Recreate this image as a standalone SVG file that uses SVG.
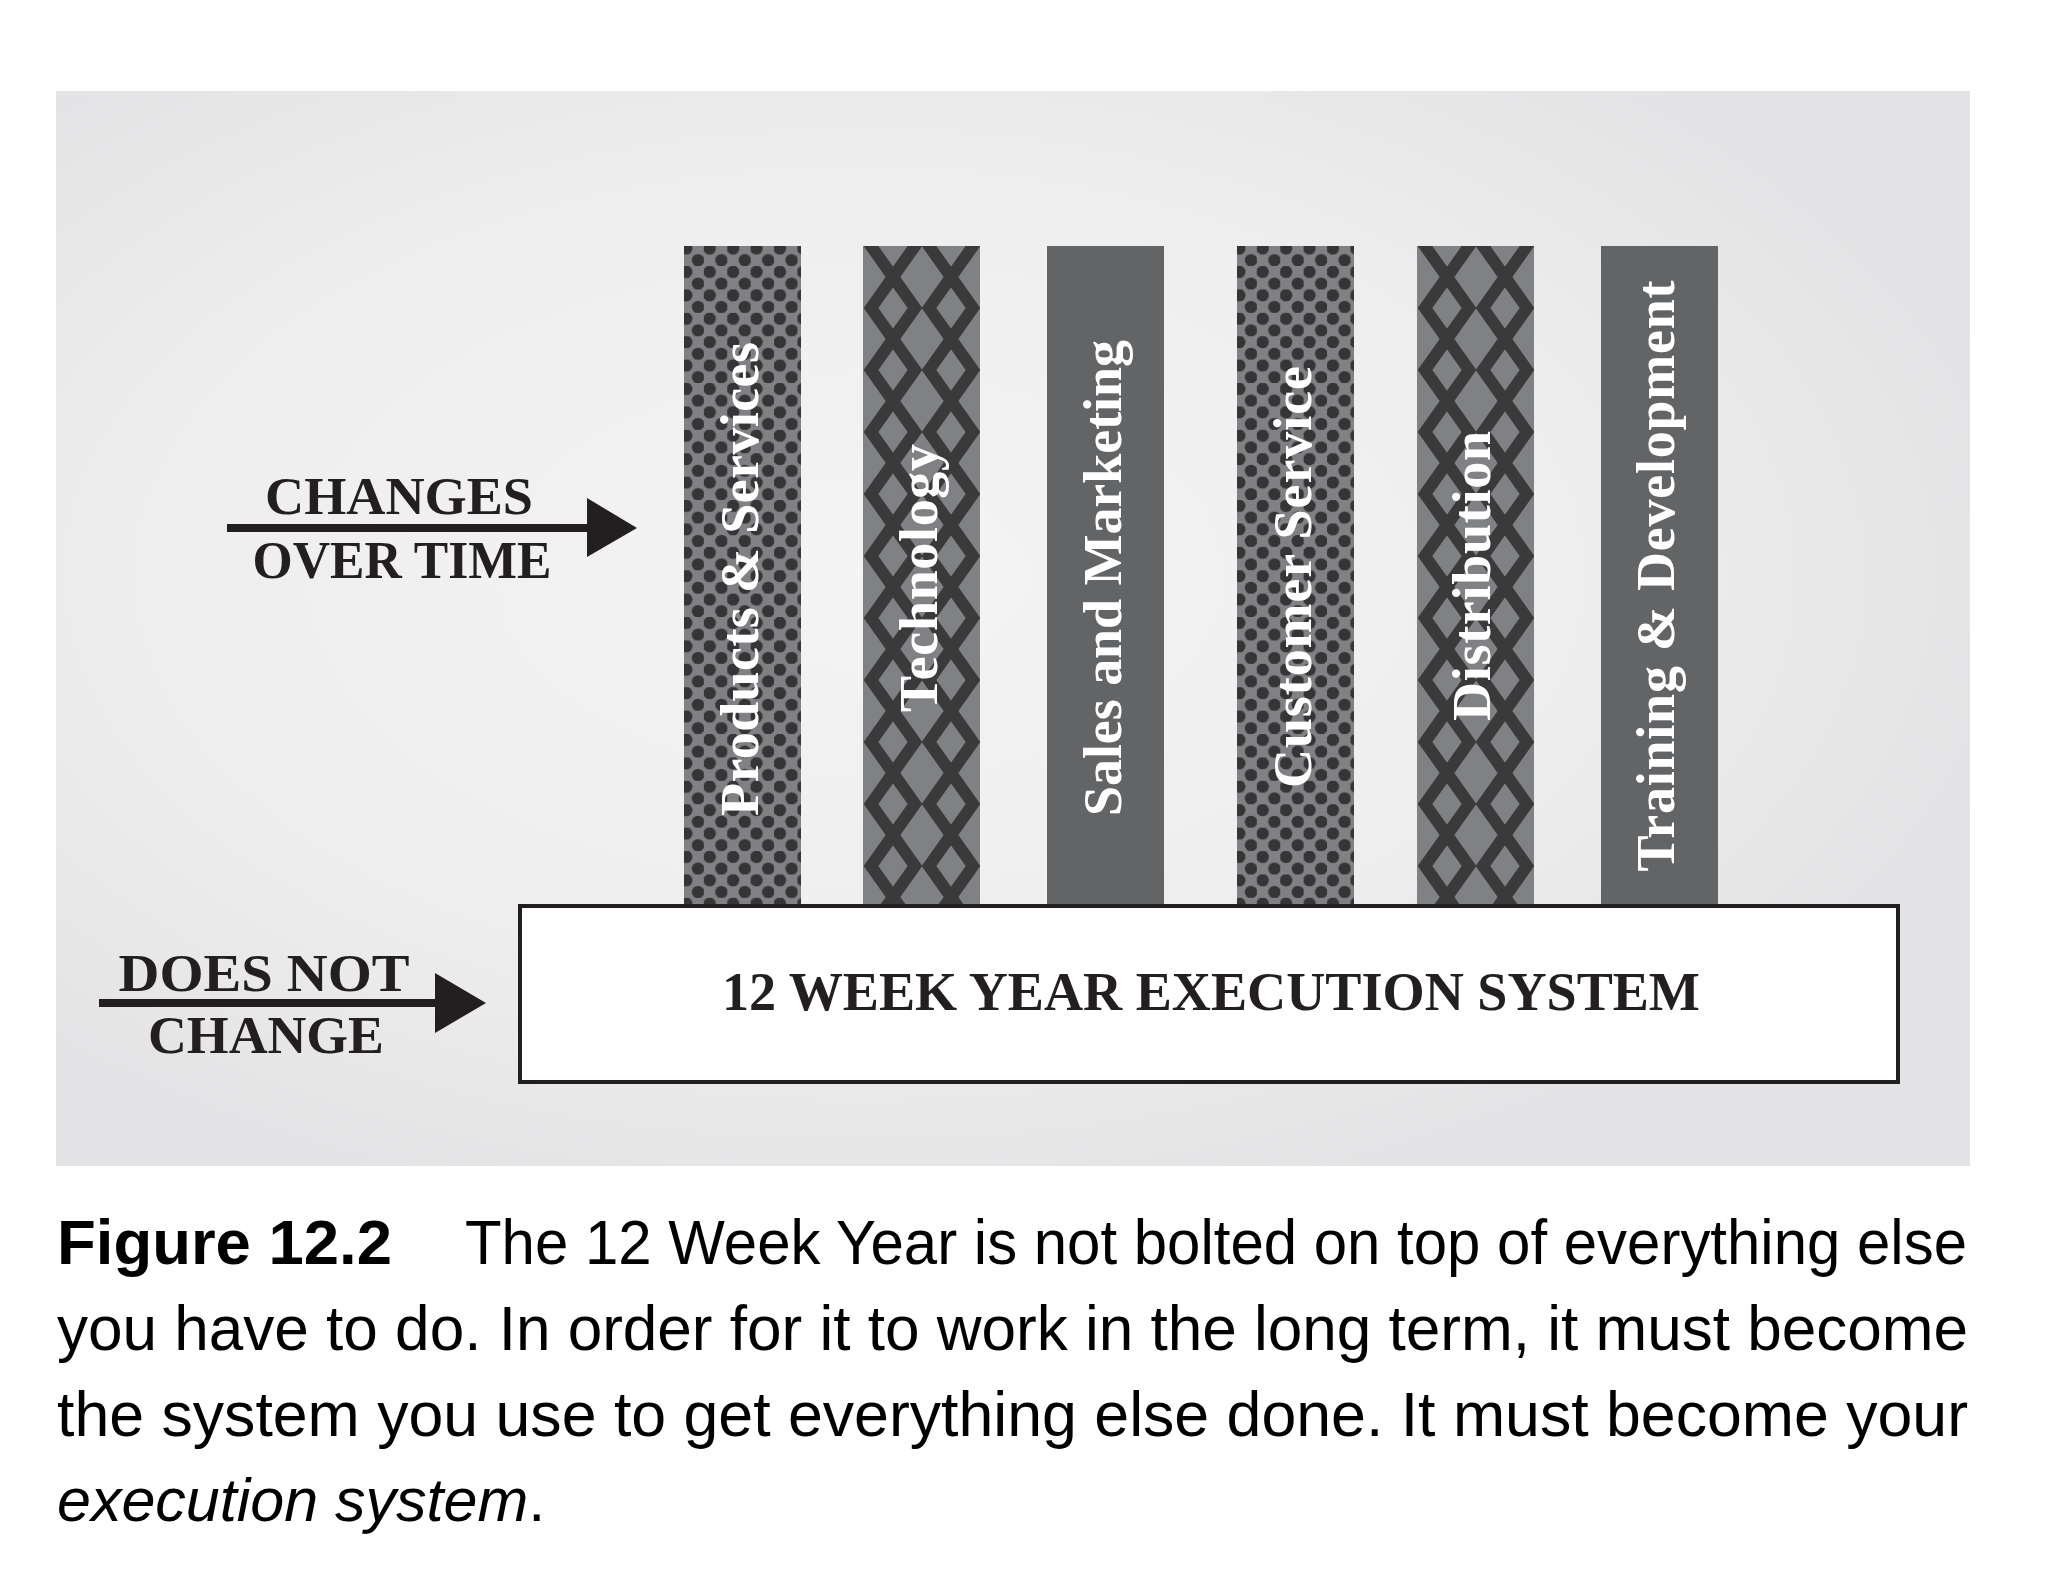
<svg xmlns="http://www.w3.org/2000/svg" width="2048" height="1596" viewBox="0 0 2048 1596">
  <style>
    .lbl { font-family: "Liberation Serif", "Times New Roman", serif; font-weight: bold; fill: #231f20; }
    .col-lbl { font-family: "Liberation Serif", "Times New Roman", serif; font-weight: bold; fill: #ffffff; font-size: 54px; }
    .cap { font-family: "Liberation Sans", Arial, sans-serif; font-size: 63px; fill: #000000; }
    .cap-end { font-family: "Liberation Sans", Arial, sans-serif; font-size: 61px; fill: #000000; }
    .arrow-line { stroke: #231f20; stroke-width: 8; fill: none; }
    .arrow-head { fill: #231f20; }
  </style>
  <defs>
    <radialGradient id="bg" cx="0.42" cy="0.45" r="0.62">
      <stop offset="0" stop-color="#f4f4f5"/>
      <stop offset="0.6" stop-color="#eeeeef"/>
      <stop offset="1" stop-color="#e3e3e5"/>
    </radialGradient>
    <pattern id="dots" patternUnits="userSpaceOnUse" x="-3.55" y="-3.35" width="23.4" height="23.4">
      <rect width="23.4" height="23.4" fill="#808184"/>
      <circle cx="5.85" cy="5.85" r="6.2" fill="#353535"/>
      <circle cx="17.55" cy="17.55" r="6.2" fill="#353535"/>
      <circle cx="-5.85" cy="29.25" r="6.2" fill="#353535"/>
      <circle cx="29.25" cy="-5.85" r="6.2" fill="#353535"/>
      <circle cx="29.25" cy="29.25" r="6.2" fill="#353535"/>
      <circle cx="-5.85" cy="-5.85" r="6.2" fill="#353535"/>
    </pattern>
    <pattern id="diam" patternUnits="userSpaceOnUse" x="0" y="0" width="118" height="124">
      <rect width="118" height="124" fill="#808184"/>
      <g fill="none" stroke="#3a3a3b" stroke-width="12" stroke-linejoin="miter">
        <polyline points="52,-62 8,0 52,62 8,124 52,186"/>
        <polyline points="8,-62 52,0 8,62 52,124 8,186"/>
        <polyline points="110,-62 66,0 110,62 66,124 110,186"/>
        <polyline points="66,-62 110,0 66,62 110,124 66,186"/>
      </g>
    </pattern>
  </defs>

  <rect x="0" y="0" width="2048" height="1596" fill="#ffffff"/>
  <rect x="56" y="91" width="1914" height="1075" fill="url(#bg)"/>

  <g id="col-products">
    <g transform="translate(684,246)"><rect width="117" height="659" fill="url(#dots)"/></g>
    <text class="col-lbl" transform="translate(758,579) rotate(-90)" text-anchor="middle" textLength="474" lengthAdjust="spacing">Products &amp; Services</text>
  </g>
  <g id="col-technology">
    <g transform="translate(863,246)"><rect width="117" height="659" fill="url(#diam)"/></g>
    <text class="col-lbl" transform="translate(937,578) rotate(-90)" text-anchor="middle" textLength="268" lengthAdjust="spacing">Technology</text>
  </g>
  <g id="col-sales">
    <rect x="1047" y="246" width="117" height="659" fill="#636466"/>
    <text class="col-lbl" transform="translate(1121,578) rotate(-90)" text-anchor="middle" textLength="476" lengthAdjust="spacing">Sales and Marketing</text>
  </g>
  <g id="col-customer">
    <g transform="translate(1237,246)"><rect width="117" height="659" fill="url(#dots)"/></g>
    <text class="col-lbl" transform="translate(1311,577) rotate(-90)" text-anchor="middle" textLength="422" lengthAdjust="spacing">Customer Service</text>
  </g>
  <g id="col-distribution">
    <g transform="translate(1417,246)"><rect width="117" height="659" fill="url(#diam)"/></g>
    <text class="col-lbl" transform="translate(1490,576) rotate(-90)" text-anchor="middle" textLength="290" lengthAdjust="spacing">Distribution</text>
  </g>
  <g id="col-training">
    <rect x="1601" y="246" width="117" height="659" fill="#636466"/>
    <text class="col-lbl" transform="translate(1674,576) rotate(-90)" text-anchor="middle" textLength="591" lengthAdjust="spacing">Training &amp; Development</text>
  </g>

  <g id="base-system">
    <rect x="520" y="906" width="1378" height="176" fill="#ffffff" stroke="#231f20" stroke-width="4"/>
    <text class="lbl" x="1211" y="1010" font-size="54" text-anchor="middle" textLength="978" lengthAdjust="spacingAndGlyphs">12 WEEK YEAR EXECUTION SYSTEM</text>
  </g>

  <g id="label-changes">
    <text class="lbl" x="399" y="514" font-size="52" text-anchor="middle" textLength="268" lengthAdjust="spacingAndGlyphs">CHANGES</text>
    <text class="lbl" x="402" y="578" font-size="52" text-anchor="middle" textLength="299" lengthAdjust="spacingAndGlyphs">OVER TIME</text>
  </g>
  <g id="label-doesnot">
    <text class="lbl" x="264" y="991" font-size="52" text-anchor="middle" textLength="291" lengthAdjust="spacingAndGlyphs">DOES NOT</text>
    <text class="lbl" x="266" y="1053" font-size="52" text-anchor="middle" textLength="236" lengthAdjust="spacingAndGlyphs">CHANGE</text>
  </g>

  <g id="connectors">
    <line class="arrow-line" x1="227" y1="528" x2="592" y2="528"/>
    <polygon class="arrow-head" points="587,498 637,528 587,557"/>
    <line class="arrow-line" x1="99" y1="1003" x2="440" y2="1003"/>
    <polygon class="arrow-head" points="435,973 486,1003 435,1033"/>
  </g>

  <g id="caption">
    <text class="cap" x="57" y="1264"><tspan font-weight="bold" textLength="335" lengthAdjust="spacingAndGlyphs">Figure 12.2</tspan></text>
    <text class="cap" x="465" y="1264" textLength="1502" lengthAdjust="spacingAndGlyphs">The 12 Week Year is not bolted on top of everything else</text>
    <text class="cap" x="57" y="1350" textLength="1911" lengthAdjust="spacingAndGlyphs">you have to do. In order for it to work in the long term, it must become</text>
    <text class="cap" x="57" y="1436" textLength="1911" lengthAdjust="spacingAndGlyphs">the system you use to get everything else done. It must become your</text>
    <text class="cap-end" x="57" y="1521"><tspan font-style="italic">execution system</tspan>.</text>
  </g>
</svg>
